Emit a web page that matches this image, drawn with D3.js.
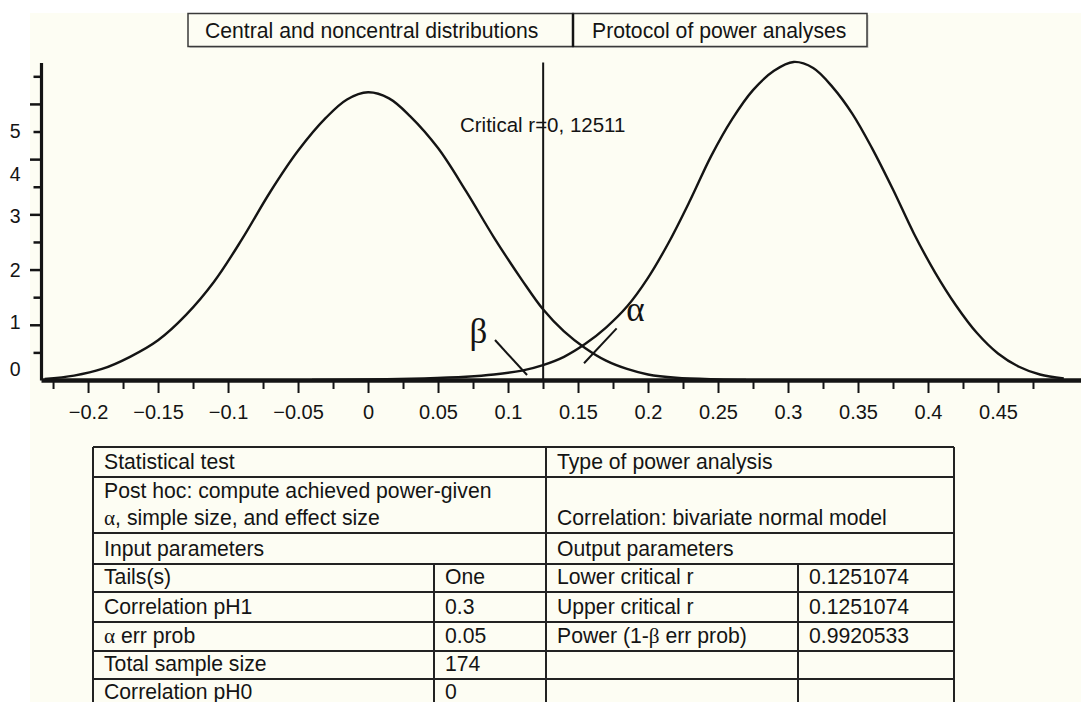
<!DOCTYPE html>
<html>
<head>
<meta charset="utf-8">
<script src="https://cdn.jsdelivr.net/npm/d3@7"></script>
<style>
  body { margin: 0; background: #fff; }
  svg { display: block; font-family: "Liberation Sans", Arial, Helvetica, sans-serif; }
</style>
</head>
<body>
<svg id="chart" width="1081" height="702"></svg>
<script>
// ---- data ----
// [r, density] points along the central (H0) distribution
const centralCurve = [
  [-0.231, 0.02], [-0.21, 0.08], [-0.19, 0.2], [-0.17, 0.42], [-0.15, 0.72],
  [-0.13, 1.18], [-0.11, 1.78], [-0.09, 2.55], [-0.07, 3.4], [-0.05, 4.15],
  [-0.03, 4.75], [-0.015, 5.08], [0, 5.21], [0.015, 5.1], [0.03, 4.78],
  [0.05, 4.2], [0.07, 3.42], [0.09, 2.58], [0.11, 1.81], [0.125, 1.28],
  [0.14, 0.88], [0.155, 0.58], [0.17, 0.35], [0.185, 0.2], [0.2, 0.1],
  [0.22, 0.04], [0.25, 0.01], [0.27, 0]
]
// [r, density] points along the noncentral (H1) distribution
const noncentralCurve = [
  [-0.04, 0], [0, 0.01], [0.04, 0.03], [0.07, 0.06], [0.09, 0.1],
  [0.11, 0.17], [0.125, 0.27], [0.14, 0.42], [0.155, 0.65], [0.17, 0.95],
  [0.185, 1.33], [0.2, 1.85], [0.215, 2.5], [0.23, 3.25], [0.245, 4.05],
  [0.26, 4.72], [0.275, 5.25], [0.29, 5.6], [0.304, 5.76], [0.318, 5.65],
  [0.332, 5.3], [0.346, 4.82], [0.36, 4.2], [0.375, 3.45], [0.39, 2.65],
  [0.405, 1.95], [0.42, 1.35], [0.435, 0.85], [0.45, 0.48], [0.465, 0.24],
  [0.48, 0.1], [0.497, 0.03]
]
const criticalR = 0.1251074
const criticalLabel = ["Critical r=0, 12511"]
const criticalLabelAt = [0.0657, 4.49]

const xMajorTicks = [-0.2, -0.15, -0.1, -0.05, 0, 0.05, 0.1, 0.15, 0.2, 0.25, 0.3, 0.35, 0.4, 0.45]
const xTickLabels = ["\u22120.2", "\u22120.15", "\u22120.1", "\u22120.05", "0", "0.05", "0.1", "0.15", "0.2", "0.25", "0.3", "0.35", "0.4", "0.45"]
const xMinorTicks = [-0.225, -0.175, -0.125, -0.075, -0.025, 0.025, 0.075, 0.125, 0.175, 0.225, 0.275, 0.325, 0.375, 0.425, 0.475]

const yMajorTicks = [1, 2, 3, 4, 5]
const yMinorTicks = [0.5, 1.5, 2.5, 3.5, 4.5, 5.5]
const yTickLabels = ["0", "1", "2", "3", "4", "5"]
const yLabelAt = [0.2, 1.05, 1.98, 2.97, 3.73, 4.5]

// greek markers with their pointer lines
const greekLabels = ["\u03b2", "\u03b1"]
const greekLabelAt = [[0.0725, 0.67], [0.1845, 1.06]]
const greekPointers = [[[0.0907, 0.724], [0.1136, 0.09]], [[0.1776, 0.936], [0.1543, 0.304]]]

const headerTabs = ["Central and noncentral distributions", "Protocol of power analyses"]

const spanRowsLeft = [["Statistical test"], ["Post hoc: compute achieved power-given", "\u03b1, simple size, and effect size"], ["Input parameters"]]
const spanRowsRight = [["Type of power analysis"], ["", "Correlation: bivariate normal model"], ["Output parameters"]]
const inputParams = ["Tails(s)", "Correlation pH1", "\u03b1 err prob", "Total sample size", "Correlation pH0"]
const inputValues = ["One", "0.3", "0.05", "174", "0"]
const outputParams = ["Lower critical r", "Upper critical r", "Power (1-\u03b2 err prob)", "", ""]
const outputValues = ["0.1251074", "0.1251074", "0.9920533", "", ""]

// ---- layout ----
const svg = d3.select('#chart')
const ink = '#141414'
const serif = '"Liberation Serif", "Times New Roman", serif'

svg.append('rect')
  .attr('x', 30).attr('y', 13).attr('width', 1051).attr('height', 689)
  .attr('fill', '#fdfdf3')

const x = d3.scaleLinear().domain([-0.2336, 0.5093]).range([41, 1081])
const y = d3.scaleLinear().domain([0, 5.75]).range([380, 62.5])

// writes a string, greek letters in a serif face
function greekText(sel, str) {
  str.split(/([\u03b1\u03b2])/).filter(s => s.length).forEach(part => {
    const t = sel.append('tspan').text(part)
    if (/[\u03b1\u03b2]/.test(part)) t.attr('font-family', serif)
  })
}

// header tabs
const tabEdges = [188, 573, 867]
headerTabs.forEach((label, i) => {
  svg.append('rect')
    .attr('x', tabEdges[i] + 1.5).attr('y', 15)
    .attr('width', tabEdges[i + 1] - tabEdges[i]).attr('height', 33)
    .attr('fill', '#9a9a9a').attr('opacity', 0.5)
  svg.append('rect')
    .attr('x', tabEdges[i]).attr('y', 13.5)
    .attr('width', tabEdges[i + 1] - tabEdges[i]).attr('height', 33)
    .attr('fill', '#fdfdf3').attr('stroke', '#3a3a3a').attr('stroke-width', 1.5)
  svg.append('text')
    .attr('x', tabEdges[i] + 17 + i * 2).attr('y', 37.5)
    .attr('font-size', 21.2).attr('fill', ink)
    .text(label)
})
svg.append('line')
  .attr('x1', tabEdges[1]).attr('x2', tabEdges[1]).attr('y1', 13.5).attr('y2', 47)
  .attr('stroke', ink).attr('stroke-width', 2.5)

// the two distributions
const line = d3.line()
  .x(d => x(d[0]))
  .y(d => y(d[1]))
  .curve(d3.curveCatmullRom.alpha(0.5))

svg.selectAll('path.curve')
  .data([centralCurve, noncentralCurve])
  .enter()
  .append('path')
  .attr('class', 'curve')
  .attr('d', line)
  .attr('fill', 'none')
  .attr('stroke', ink)
  .attr('stroke-width', 2.4)

// critical r
svg.append('line')
  .attr('x1', x(criticalR)).attr('x2', x(criticalR))
  .attr('y1', y.range()[1]).attr('y2', y(0))
  .attr('stroke', ink).attr('stroke-width', 2)

svg.append('text')
  .attr('x', x(criticalLabelAt[0])).attr('y', y(criticalLabelAt[1]))
  .attr('font-size', 20.5).attr('fill', ink)
  .text(criticalLabel[0])

// alpha / beta markers
svg.selectAll('line.pointer')
  .data(greekPointers)
  .enter()
  .append('line')
  .attr('class', 'pointer')
  .attr('x1', d => x(d[0][0])).attr('y1', d => y(d[0][1]))
  .attr('x2', d => x(d[1][0])).attr('y2', d => y(d[1][1]))
  .attr('stroke', ink).attr('stroke-width', 2)

svg.selectAll('text.greek')
  .data(greekLabels)
  .enter()
  .append('text')
  .attr('class', 'greek')
  .attr('x', (d, i) => x(greekLabelAt[i][0]))
  .attr('y', (d, i) => y(greekLabelAt[i][1]))
  .attr('font-family', serif)
  .attr('font-size', 35).attr('fill', ink)
  .text(d => d)

// x axis
const xMinor = d3.axisBottom(x).tickValues(xMinorTicks).tickFormat('').tickSize(9).tickSizeOuter(0)
const xMajor = d3.axisBottom(x).tickValues(xMajorTicks).tickFormat((d, i) => xTickLabels[i])
  .tickSize(13).tickSizeOuter(0).tickPadding(12)

const gxMinor = svg.append('g').attr('transform', `translate(0,${y(0)})`).call(xMinor)
gxMinor.select('.domain').remove()
gxMinor.selectAll('line').attr('stroke', ink).attr('stroke-width', 2)

const gx = svg.append('g').attr('transform', `translate(0,${y(0)})`).call(xMajor)
gx.select('.domain').attr('stroke', ink).attr('stroke-width', 4.5)
gx.selectAll('line').attr('stroke', ink).attr('stroke-width', 2)
gx.selectAll('text').attr('font-size', 20).attr('fill', ink)
  .attr('font-family', '"Liberation Sans", Arial, sans-serif')

// y axis
const yMinor = d3.axisLeft(y).tickValues(yMinorTicks).tickFormat('').tickSize(7.5).tickSizeOuter(0)
const yMajor = d3.axisLeft(y).tickValues(yMajorTicks).tickFormat('').tickSize(11).tickSizeOuter(0)
const yLabels = d3.axisLeft(y).tickValues(yLabelAt).tickFormat((d, i) => yTickLabels[i])
  .tickSize(0).tickSizeOuter(0).tickPadding(20.5)

const gyMinor = svg.append('g').attr('transform', `translate(${x.range()[0]},0)`).call(yMinor)
gyMinor.select('.domain').remove()
gyMinor.selectAll('line').attr('stroke', ink).attr('stroke-width', 2.5)

const gyMajor = svg.append('g').attr('transform', `translate(${x.range()[0]},0)`).call(yMajor)
gyMajor.select('.domain').attr('stroke', ink).attr('stroke-width', 3.2)
gyMajor.selectAll('line').attr('stroke', ink).attr('stroke-width', 2.5)

const gyLabels = svg.append('g').attr('transform', `translate(${x.range()[0]},0)`).call(yLabels)
gyLabels.select('.domain').remove()
gyLabels.selectAll('text').attr('font-size', 19.5).attr('fill', ink)
  .attr('font-family', '"Liberation Sans", Arial, sans-serif')

// ---- protocol table ----
const colEdges = [93, 434, 546, 798, 954]
const rowEdges = [447, 477, 533, 564, 592, 622, 651, 679, 707]
const pad = 11
const table = svg.append('g').attr('font-size', 21.2).attr('fill', ink)

function cellText(col, lines, firstBaseline) {
  lines.forEach((str, k) => {
    if (!str) return
    const t = table.append('text')
      .attr('x', colEdges[col] + pad)
      .attr('y', firstBaseline + k * 27)
    greekText(t, str)
  })
}

spanRowsLeft.forEach((lines, r) => {
  const base = lines.length > 1 ? rowEdges[r] + 21 : rowEdges[r + 1] - 8
  cellText(0, lines, base)
  cellText(2, spanRowsRight[r], base)
})

inputParams.forEach((p, i) => {
  const base = rowEdges[i + 4] - 8
  cellText(0, [p], base)
  cellText(1, [inputValues[i]], base)
  cellText(2, [outputParams[i]], base)
  cellText(3, [outputValues[i]], base)
})

const grid = svg.append('g').attr('stroke', '#222').attr('stroke-width', 2)
grid.selectAll('line.h')
  .data(rowEdges)
  .enter()
  .append('line')
  .attr('x1', colEdges[0]).attr('x2', colEdges[4])
  .attr('y1', d => d).attr('y2', d => d)
grid.selectAll('line.v')
  .data(colEdges)
  .enter()
  .append('line')
  .attr('x1', d => d).attr('x2', d => d)
  .attr('y1', (d, i) => (i === 1 || i === 3) ? rowEdges[3] : rowEdges[0])
  .attr('y2', rowEdges[rowEdges.length - 1])
</script>
</body>
</html>
